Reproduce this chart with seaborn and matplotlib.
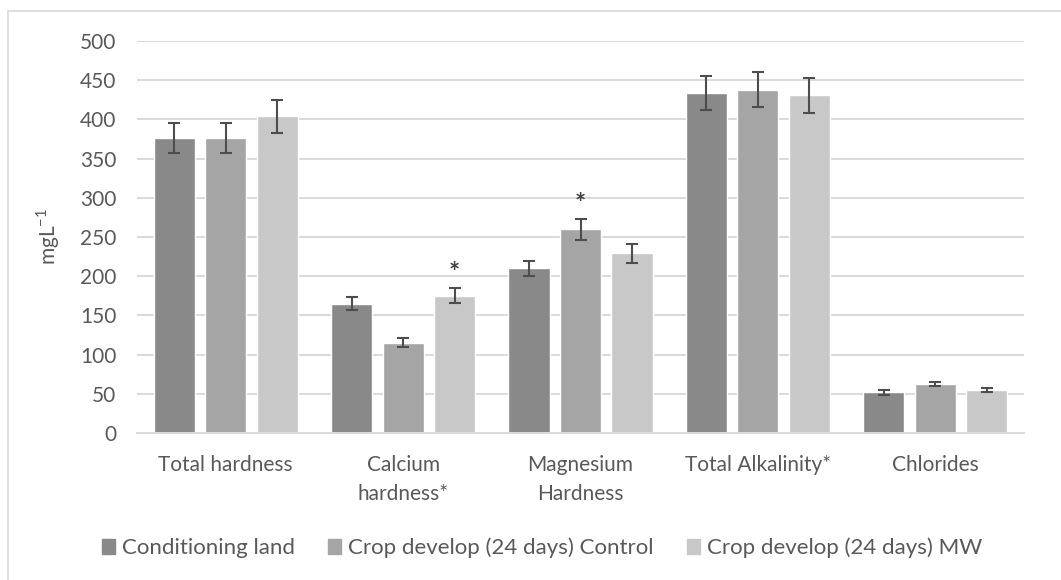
import seaborn as sns
import pandas as pd
import numpy as np
import matplotlib.pyplot as plt
from matplotlib.lines import Line2D

# categories on the x axis (line breaks as in the original)
categories = ['Total hardness', 'Calcium\nhardness*', 'Magnesium\nHardness', 'Total Alkalinity*', 'Chlorides']
series = ['Conditioning land', 'Crop develop (24 days) Control', 'Crop develop (24 days) MW']

# means (mg/L)
conditioning = [376, 165, 210, 434, 52]
control = [376, 115, 260, 438, 62]
mw = [404, 175, 229, 431, 55]

# error bar half-heights
conditioning_err = [19, 8.5, 10, 21.5, 3]
control_err = [19, 5.7, 13.4, 22.5, 2.5]
mw_err = [21, 9.8, 12, 22.3, 3]

# significance marks: (category index, series index)
stars = [(1, 2), (2, 1)]

values = [conditioning, control, mw]
errors = [conditioning_err, control_err, mw_err]

rows = []
for s, vals in zip(series, values):
    for c, v in zip(categories, vals):
        rows.append({'param': c, 'period': s, 'value': v})
df = pd.DataFrame(rows)

text_col = '#595959'
grid_col = '#d9d9d9'
palette = ['#898989', '#a5a5a5', '#c8c8c8']
fs = 15

sns.set_style('white')
plt.rcParams['font.family'] = ['Lato', 'DejaVu Sans']
plt.rcParams['text.color'] = text_col
plt.rcParams['axes.labelcolor'] = text_col
plt.rcParams['xtick.color'] = text_col
plt.rcParams['ytick.color'] = text_col

fig = plt.figure(figsize=(10.61, 5.80), dpi=100)
ax = fig.add_axes([137 / 1061, 1 - 433 / 580, 887 / 1061, 392 / 580])

sns.barplot(data=df, x='param', y='value', hue='period', palette=palette,
            width=0.87, gap=0.2, saturation=1, errorbar=None, legend=False, ax=ax)

# error bars and stars at the bar centres
bar_conts = list(ax.containers)
for k, cont in enumerate(bar_conts):
    xs = [b.get_x() + b.get_width() / 2 for b in cont]
    hs = [b.get_height() for b in cont]
    ax.errorbar(xs, hs, yerr=errors[k], fmt='none', ecolor='#4d4d4d',
                elinewidth=1.5, capsize=4.2, capthick=1.5, zorder=3)
    for ci, si in stars:
        if si == k:
            ax.text(xs[ci], hs[ci] + errors[k][ci] + 4, '*', ha='center', va='bottom',
                    fontsize=19, fontweight='bold', color='#404040')

ax.set_ylim(0, 500)
ax.set_xlim(-0.5, len(categories) - 0.5)
ax.set_yticks(np.arange(0, 501, 50))
ax.yaxis.grid(True, color=grid_col, lw=1.4)
ax.set_axisbelow(True)
for sp in ['top', 'left', 'right']:
    ax.spines[sp].set_visible(False)
ax.spines['bottom'].set_color(grid_col)
ax.spines['bottom'].set_linewidth(1.4)
ax.tick_params(axis='y', length=0, pad=15, labelsize=fs)
ax.tick_params(axis='x', length=0, pad=16, labelsize=fs)
for lab in ax.get_xticklabels():
    lab.set_linespacing(1.55)

ax.set_xlabel('')
ax.set_ylabel('mgL$^{\\mathregular{-1}}$', fontsize=fs)
ax.yaxis.set_label_coords(-0.085, 0.5)

handles = [plt.Rectangle((0, 0), 1, 1, color=c) for c in palette]
fig.legend(handles, series, loc='center', bbox_to_anchor=(542 / 1061, 1 - 548 / 580),
           ncol=3, frameon=False, fontsize=16, handlelength=0.6, handleheight=0.6,
           handletextpad=0.3, columnspacing=1.5)

# outer chart frame (only top and left edges inside the picture)
fig.add_artist(Line2D([7.5 / 1061, 7.5 / 1061], [0, 1 - 11 / 580], color=grid_col, lw=1.2))
fig.add_artist(Line2D([7.5 / 1061, 1], [1 - 11 / 580, 1 - 11 / 580], color=grid_col, lw=1.2))

fig.savefig('out.png', dpi=100)
